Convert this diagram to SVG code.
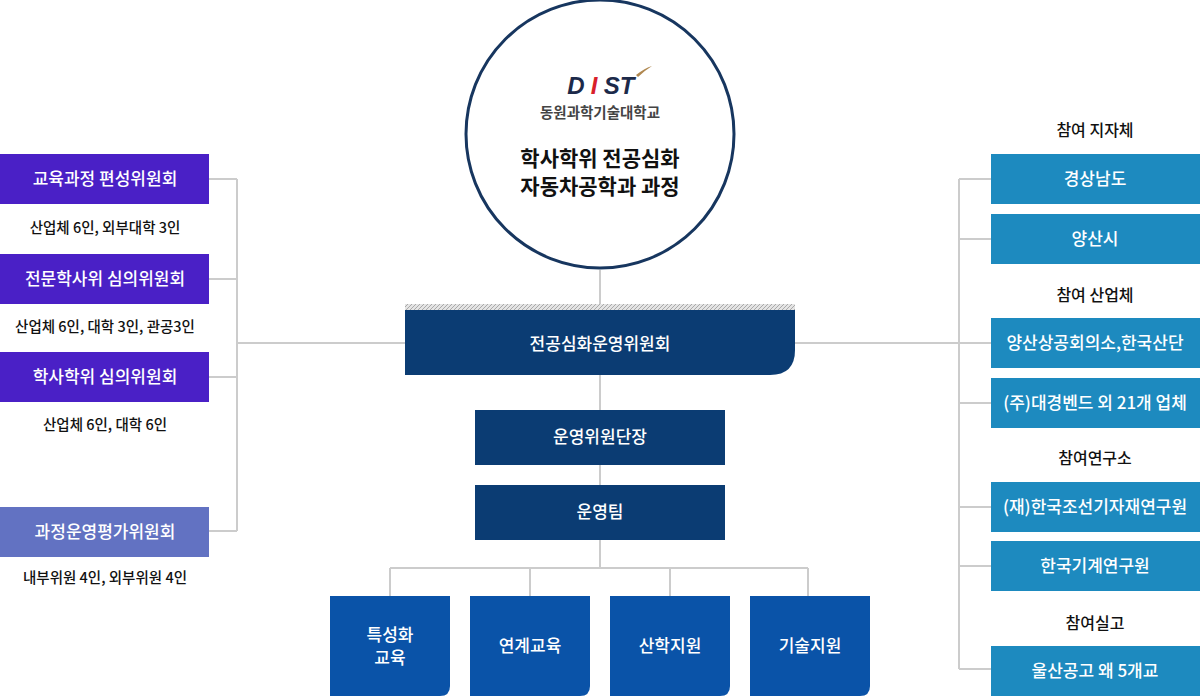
<svg xmlns="http://www.w3.org/2000/svg" width="1200" height="696" viewBox="0 0 1200 696">
<defs>
<style>
text{font-family:"Noto Sans CJK KR","Noto Sans",sans-serif;text-anchor:middle}
.w{fill:#fff;font-size:17px;font-weight:500}
.k{fill:#111;font-size:14.5px;font-weight:500}
.h{fill:#111;font-size:16px;font-weight:500}
.lg{font-family:"Liberation Sans",sans-serif;font-size:24px;font-weight:bold;font-style:italic}
.ln{stroke:#ccc;stroke-width:2;fill:none}
.pl{fill:#4a20c6}
.bl{fill:#1d8abf}
.nv{fill:#0b3c73}
.bt{fill:#0a53a8}
</style>
<pattern id="hat" width="4" height="4" patternUnits="userSpaceOnUse"><rect width="4" height="4" fill="#e4e4e4"/><path d="M0 4L4 0" stroke="#aaa" stroke-width="1"/></pattern>
</defs>
<g id="connectors" class="ln">
<path d="M600 270V310M600 375V410M600 465V485M600 540V568M390 568H808M390 568V596M530 568V596M670 568V596M808 568V596"/>
<path d="M209 179H237M209 279H237M209 377H237M209 531H237M237 179V531M237 343H405"/>
<path d="M991 179H959M991 239H959M991 343H959M991 403H959M991 507H959M991 566H959M991 669H959M959 179V669M795 343H959"/>
</g>
<g id="circle">
<circle cx="600" cy="134" r="134" fill="#fff" stroke="#17365f" stroke-width="3"/>
<text x="576" y="94" class="lg" fill="#1c2a4a">D</text>
<text x="594" y="94" class="lg" fill="#d8202a">I</text>
<text x="619" y="94" class="lg" fill="#1c2a4a">ST</text>
<path d="M636 75Q645 68 652 66Q644 71 638 77Z" fill="#b08850"/>
<text x="600" y="118" font-size="14.5" fill="#444" font-weight="bold">동원과학기술대학교</text>
<text x="600" y="166" font-size="21" font-weight="bold" fill="#111">학사학위 전공심화</text>
<text x="600" y="194" font-size="21" font-weight="bold" fill="#111">자동차공학과 과정</text>
</g>
<g id="committee">
<rect x="405" y="304" width="390" height="7" fill="url(#hat)"/>
<path d="M405 310H795V350Q795 375 770 375H405Z" class="nv"/>
<text x="600" y="350" class="w" font-size="20" font-weight="bold">전공심화운영위원회</text>
</g>
<g id="leader"><rect x="475" y="410" width="250" height="55" class="nv"/><text x="600" y="443" class="w">운영위원단장</text></g>
<g id="team"><rect x="475" y="485" width="250" height="55" class="nv"/><text x="600" y="518" class="w">운영팀</text></g>
<g id="b1"><path d="M330 596H450V686Q450 696 440 696H330Z" class="bt"/><text x="390" y="641" class="w">특성화</text><text x="390" y="664" class="w">교육</text></g>
<g id="b2"><path d="M470 596H590V686Q590 696 580 696H470Z" class="bt"/><text x="530" y="652" class="w">연계교육</text></g>
<g id="b3"><path d="M610 596H730V686Q730 696 720 696H610Z" class="bt"/><text x="670" y="652" class="w">산학지원</text></g>
<g id="b4"><path d="M750 596H870V686Q870 696 860 696H750Z" class="bt"/><text x="810" y="652" class="w">기술지원</text></g>
<g id="l1"><rect x="0" y="154" width="209" height="50" class="pl"/><text x="105" y="185" class="w">교육과정 편성위원회</text><text x="105" y="233" class="k">산업체 6인, 외부대학 3인</text></g>
<g id="l2"><rect x="0" y="254" width="209" height="50" class="pl"/><text x="105" y="285" class="w">전문학사위 심의위원회</text><text x="105" y="332" class="k">산업체 6인, 대학 3인, 관공3인</text></g>
<g id="l3"><rect x="0" y="352" width="209" height="50" class="pl"/><text x="105" y="383" class="w">학사학위 심의위원회</text><text x="105" y="430" class="k">산업체 6인, 대학 6인</text></g>
<g id="l4"><rect x="0" y="507" width="209" height="50" fill="#6272c2"/><text x="105" y="538" class="w">과정운영평가위원회</text><text x="105" y="583" class="k">내부위원 4인, 외부위원 4인</text></g>
<g id="rh1"><text x="1095" y="136" class="h">참여 지자체</text></g>
<g id="r1"><rect x="991" y="154" width="209" height="50" class="bl"/><text x="1095" y="185" class="w">경상남도</text></g>
<g id="r2"><rect x="991" y="214" width="209" height="50" class="bl"/><text x="1095" y="245" class="w">양산시</text></g>
<g id="rh2"><text x="1095" y="301" class="h">참여 산업체</text></g>
<g id="r3"><rect x="991" y="318" width="209" height="50" class="bl"/><text x="1095" y="349" class="w">양산상공회의소,한국산단</text></g>
<g id="r4"><rect x="991" y="378" width="209" height="50" class="bl"/><text x="1095" y="409" class="w">(주)대경벤드 외 21개 업체</text></g>
<g id="rh3"><text x="1095" y="464" class="h">참여연구소</text></g>
<g id="r5"><rect x="991" y="482" width="209" height="50" class="bl"/><text x="1095" y="513" class="w">(재)한국조선기자재연구원</text></g>
<g id="r6"><rect x="991" y="541" width="209" height="50" class="bl"/><text x="1095" y="572" class="w">한국기계연구원</text></g>
<g id="rh4"><text x="1095" y="629" class="h">참여실고</text></g>
<g id="r7"><rect x="991" y="646" width="209" height="50" class="bl"/><text x="1095" y="677" class="w">울산공고 왜 5개교</text></g>
</svg>
